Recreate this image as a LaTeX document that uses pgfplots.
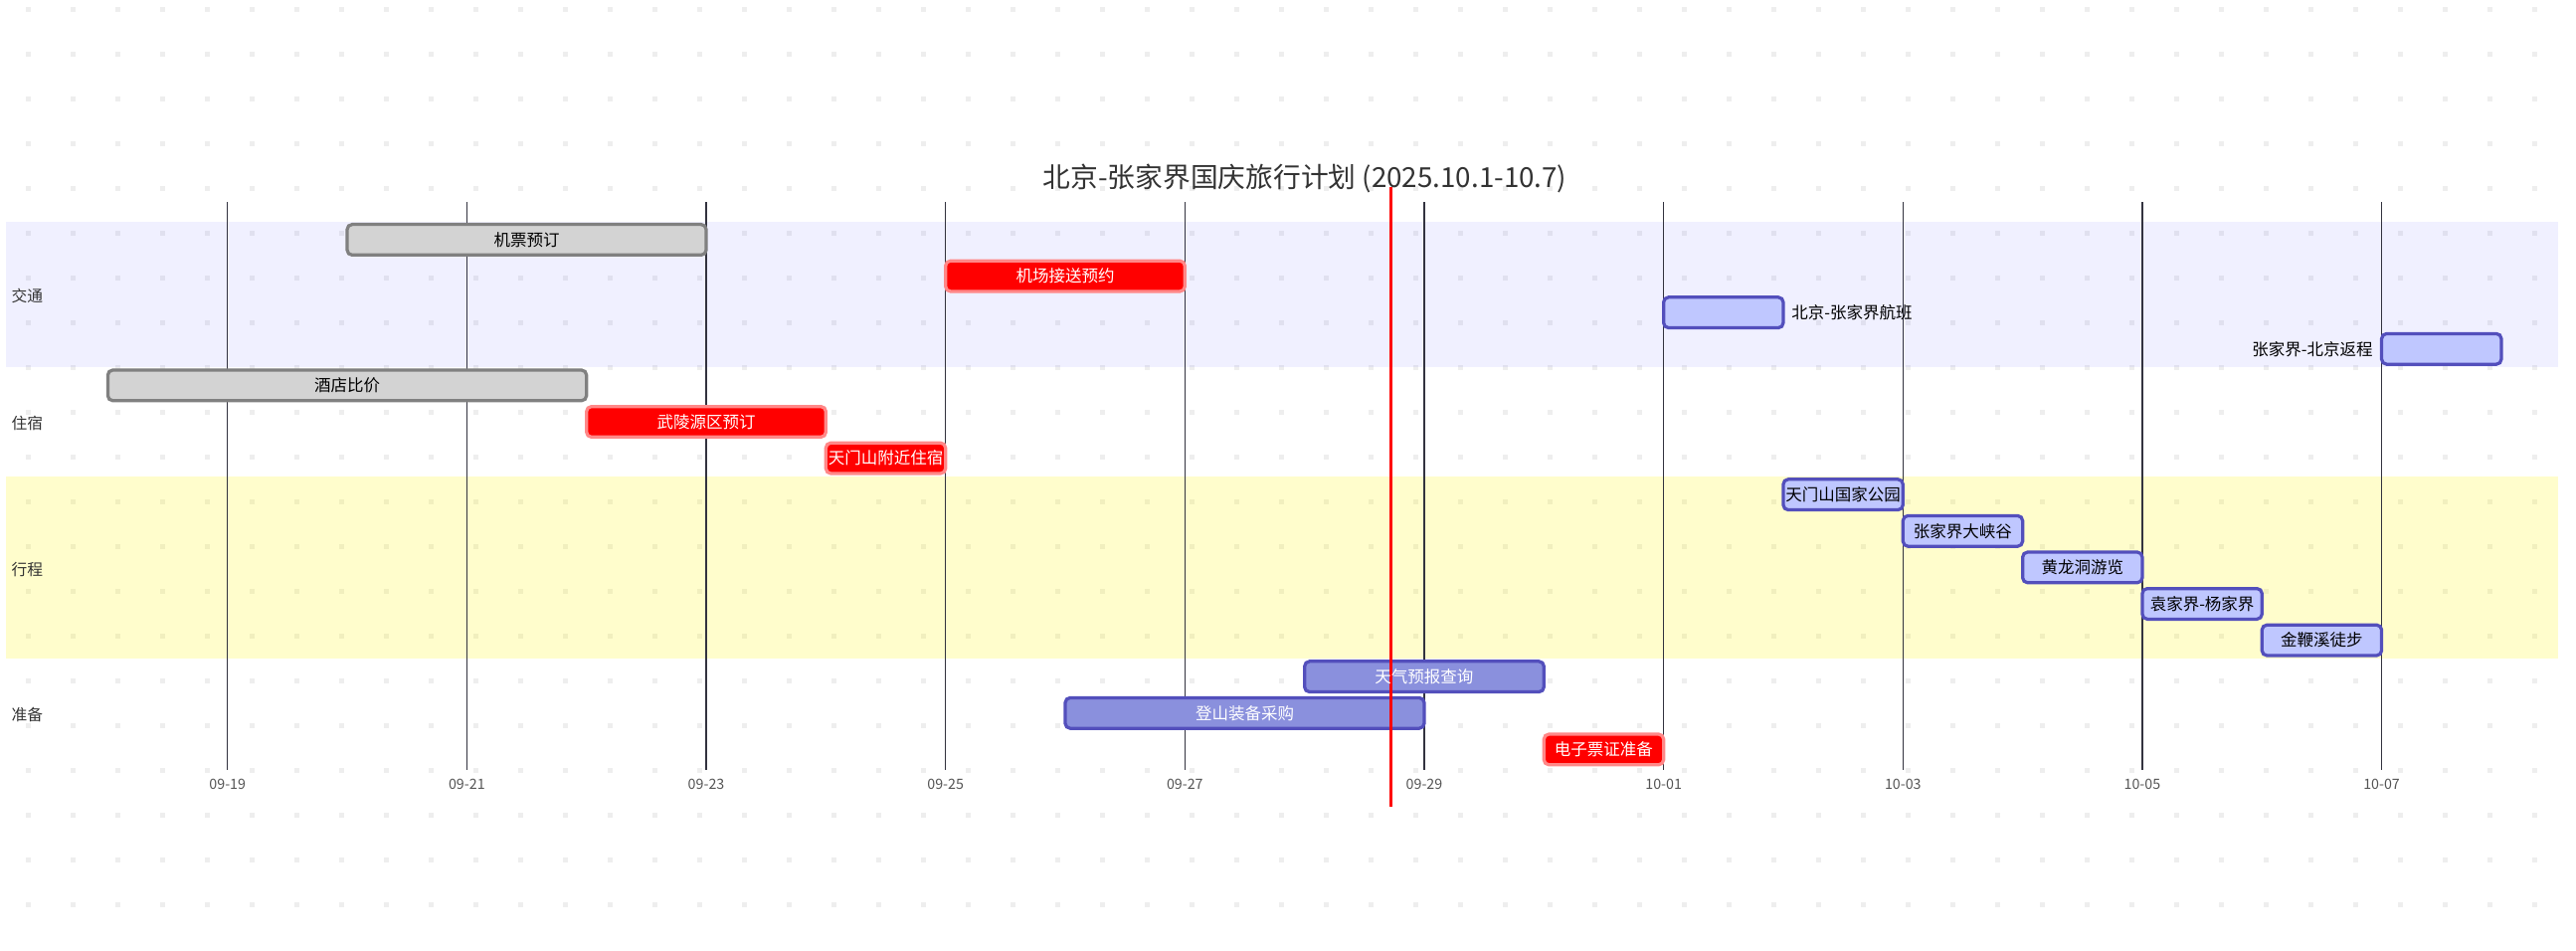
\documentclass[border=0pt]{standalone}
\usepackage{fontspec}
\setmainfont{Noto Sans CJK SC}
\usepackage{pgfplots}
\pgfplotsset{compat=1.18}
\definecolor{gridc}{HTML}{33333F}
\definecolor{sec0}{RGB}{102,102,255}
\definecolor{sec2}{HTML}{FFF400}
\definecolor{doneF}{HTML}{D3D3D3}
\definecolor{doneB}{HTML}{808080}
\definecolor{critB}{HTML}{FF8888}
\definecolor{actF}{HTML}{BFC7FF}
\definecolor{taskB}{HTML}{534FBC}
\definecolor{taskF}{HTML}{8A90DD}
\definecolor{dotc}{HTML}{EEEEEE}
\definecolor{txt}{HTML}{333333}
\definecolor{tickc}{HTML}{555555}
\newcommand\lbl{\fontsize{6.6pt}{7pt}\selectfont}
\pgfplotsset{
  gantt/.style={scale only axis, width=1026.4pt, height=228.28pt,
    at={(2.4pt,72.4pt)}, anchor=south west,
    xmin=-1.851, xmax=19.474, ymin=-1.030, ymax=14.563, y dir=reverse},
  bar/.style={line width=1.3pt, rounded corners=2pt},
  done/.style={bar, fill=doneF, draw=doneB},
  crit/.style={bar, fill=red, draw=critB},
  act/.style={bar, fill=actF, draw=taskB},
  norm/.style={bar, fill=taskF, draw=taskB},
}
\begin{document}
\begin{tikzpicture}[x=0.4pt,y=0.4pt]
\path (0,0) rectangle (2590,955);
\foreach \i in {0,...,56}{\foreach \j in {0,...,20}{%
  \fill[dotc] ({26+45*\i},{942.7-45*\j}) rectangle ++(5,5.6);}}
% section bands
\begin{axis}[gantt, hide axis]
\addplot[fill=sec0, fill opacity=0.098, draw=none] coordinates {(-1.851,-0.5) (19.474,-0.5) (19.474,3.5) (-1.851,3.5)} -- cycle;
\addplot[fill=sec2, fill opacity=0.2, draw=none] coordinates {(-1.851,6.5) (19.474,6.5) (19.474,11.5) (-1.851,11.5)} -- cycle;
\end{axis}
% grid, tasks
\begin{axis}[gantt, axis line style={draw=none}, ytick=\empty,
  xtick={0,2,...,18},
  xticklabels={09-19,09-21,09-23,09-25,09-27,09-29,10-01,10-03,10-05,10-07},
  major tick length=0pt, xmajorgrids,
  major grid style={gridc, line width=0.6pt},
  xticklabel style={anchor=center, yshift=-5.6pt, font=\fontsize{5.7pt}{6pt}\selectfont, text=tickc},
  clip=false]
% 交通
\addplot[done] coordinates {(1,-0.42) (4,-0.42) (4,0.42) (1,0.42)} -- cycle;
\addplot[crit] coordinates {(6,0.58) (8,0.58) (8,1.42) (6,1.42)} -- cycle;
\addplot[act] coordinates {(12,1.58) (13,1.58) (13,2.42) (12,2.42)} -- cycle;
\addplot[act] coordinates {(18,2.58) (19,2.58) (19,3.42) (18,3.42)} -- cycle;
% 住宿
\addplot[done] coordinates {(-1,3.58) (3,3.58) (3,4.42) (-1,4.42)} -- cycle;
\addplot[crit] coordinates {(3,4.58) (5,4.58) (5,5.42) (3,5.42)} -- cycle;
\addplot[crit] coordinates {(5,5.58) (6,5.58) (6,6.42) (5,6.42)} -- cycle;
% 行程
\addplot[act] coordinates {(13,6.58) (14,6.58) (14,7.42) (13,7.42)} -- cycle;
\addplot[act] coordinates {(14,7.58) (15,7.58) (15,8.42) (14,8.42)} -- cycle;
\addplot[act] coordinates {(15,8.58) (16,8.58) (16,9.42) (15,9.42)} -- cycle;
\addplot[act] coordinates {(16,9.58) (17,9.58) (17,10.42) (16,10.42)} -- cycle;
\addplot[act] coordinates {(17,10.58) (18,10.58) (18,11.42) (17,11.42)} -- cycle;
% 准备
\addplot[norm] coordinates {(9,11.58) (11,11.58) (11,12.42) (9,12.42)} -- cycle;
\addplot[norm] coordinates {(7,12.58) (10,12.58) (10,13.42) (7,13.42)} -- cycle;
\addplot[crit] coordinates {(11,13.58) (12,13.58) (12,14.42) (11,14.42)} -- cycle;
% today
\addplot[red, line width=1.2pt] coordinates {(9.72,-1.448) (9.72,15.574)};
% task labels
\node[font=\lbl, text=black] at (2.5,0) {机票预订};
\node[font=\lbl, text=white] at (7,1) {机场接送预约};
\node[font=\lbl, text=black, anchor=west, inner sep=0pt, xshift=3.2pt] at (13,2) {北京-张家界航班};
\node[font=\lbl, text=black, anchor=east, inner sep=0pt, xshift=-3.4pt] at (18,3) {张家界-北京返程};
\node[font=\lbl, text=black] at (1,4) {酒店比价};
\node[font=\lbl, text=white] at (4,5) {武陵源区预订};
\node[font=\lbl, text=white] at (5.5,6) {天门山附近住宿};
\node[font=\lbl, text=black] at (13.5,7) {天门山国家公园};
\node[font=\lbl, text=black] at (14.5,8) {张家界大峡谷};
\node[font=\lbl, text=black] at (15.5,9) {黄龙洞游览};
\node[font=\lbl, text=black] at (16.5,10) {袁家界-杨家界};
\node[font=\lbl, text=black] at (17.5,11) {金鞭溪徒步};
\node[font=\lbl, text=white] at (10,12) {天气预报查询};
\node[font=\lbl, text=white] at (8.5,13) {登山装备采购};
\node[font=\lbl, text=white] at (11.5,14) {电子票证准备};
% section labels
\node[font=\fontsize{6.3pt}{7pt}\selectfont, text=txt, anchor=west, inner sep=0pt] at (-1.809,1.55) {交通};
\node[font=\fontsize{6.3pt}{7pt}\selectfont, text=txt, anchor=west, inner sep=0pt] at (-1.809,5.05) {住宿};
\node[font=\fontsize{6.3pt}{7pt}\selectfont, text=txt, anchor=west, inner sep=0pt] at (-1.809,9.05) {行程};
\node[font=\fontsize{6.3pt}{7pt}\selectfont, text=txt, anchor=west, inner sep=0pt] at (-1.809,13.05) {准备};
\end{axis}
\node[font=\fontsize{11.1pt}{13pt}\selectfont, text=txt] at (1312,775.7) {北京-张家界国庆旅行计划 (2025.10.1-10.7)};
\end{tikzpicture}
\end{document}
